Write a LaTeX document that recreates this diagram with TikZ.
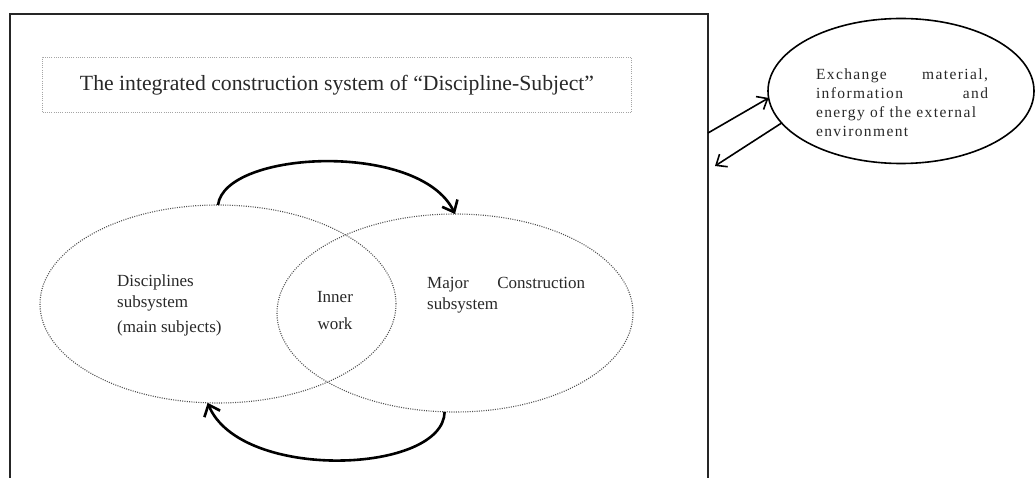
\documentclass[tikz,border=0pt]{standalone}
\usepackage{fontspec}
\setmainfont{Liberation Serif}
\newfontfamily\envfont[LetterSpace=9]{Liberation Serif}
\usepackage{tikz}
\usetikzlibrary{shapes.geometric, arrows.meta, positioning}
\definecolor{dotgray}{RGB}{80,80,80}
\definecolor{boxgray}{RGB}{165,165,165}
\definecolor{textgray}{RGB}{40,40,40}

\begin{document}
\begin{tikzpicture}[
    x=1pt, y=-1pt,
    sysframe/.style={rectangle, draw=black!85, line width=2pt, inner sep=0, outer sep=0},
    titlebox/.style={rectangle, draw=boxgray, line width=1pt, dash pattern=on 1pt off 1.2pt,
                minimum width=589pt, minimum height=55pt, text=textgray,
                font=\fontsize{21.7}{24}\selectfont},
    subsys/.style={ellipse, draw=dotgray, line width=1.1pt, dash pattern=on 1pt off 1.3pt,
                minimum width=356pt, minimum height=198pt, inner sep=0, outer sep=0},
    envshape/.style={ellipse, draw=black, line width=1.6pt, inner sep=0, outer sep=0},
    venntext/.style={text=textgray, inner sep=0, font=\fontsize{17}{21}\selectfont},
    turnarrow/.style={-{Straight Barb[length=10pt, width=17pt]}, line width=2.6pt},
    exch/.style={-{Straight Barb[length=9pt, width=15pt]}, line width=1.6pt}
]
    \useasboundingbox (0,0) rectangle (1035,478);

    % Nodes
    \node[sysframe, minimum width=698pt, minimum height=490pt, anchor=north west] (sys) at (10,14) {};
    \node[titlebox] (title) at (337,85) {The integrated construction system of “Discipline-Subject”};
    \node[subsys] (disc) at (218,304) {};
    \node[subsys] (major) at (455,313) {};
    \node[venntext, align=left, anchor=west] (disctext) at (117,305) {Disciplines\\subsystem\\[4pt](main subjects)};
    \node[venntext, align=center, font=\fontsize{17}{27}\selectfont] (inner) at (335,311) {Inner\\work};
    \node[venntext, text width=158pt, align=left, anchor=west] (majortext) at (427,295) {Major\hfill Construction\\subsystem};
    \node[envshape, minimum width=266pt, minimum height=145pt] (env) at (901,91) {};
    \node[text=textgray, inner sep=0, text width=172pt, align=left,
          font=\envfont\fontsize{15.5}{19}\selectfont] (envtext) at (902,103)
          {Exchange\hfill material,\\information\hfill and\\energy of the external\\environment};
    \coordinate (exout) at (708,133);
    \coordinate (exin) at (715,166);

    % Arrows
    \draw[turnarrow] (disc.north) .. controls +(7,-55) and +(-35,-73) .. (major.north);
    \draw[turnarrow] (major.264) .. controls +(-1,62) and +(33,79) .. (disc.264);
    \draw[exch] (exout) -- (env.183);
    \draw[exch] (env.195) -- (exin);
\end{tikzpicture}
\end{document}
